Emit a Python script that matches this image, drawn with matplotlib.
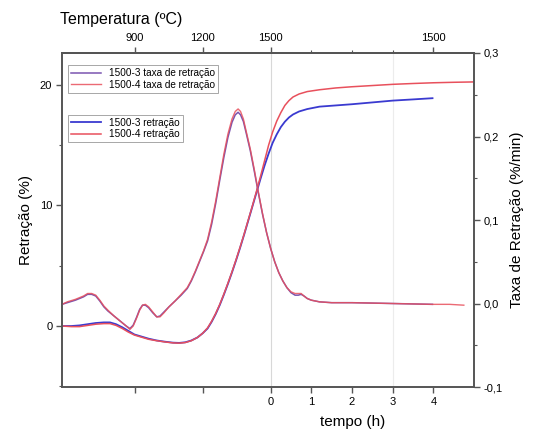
import matplotlib
matplotlib.use("Agg")
import matplotlib.pyplot as plt
import numpy as np

plt.rcParams['font.family'] = ['Liberation Sans', 'DejaVu Sans']

# taxa de retracao (%/min) vs tempo (h), t=0 -> inicio do patamar 1500 C
t_taxa3 = [-5.13, -5.0, -4.8, -4.6, -4.5, -4.4, -4.3, -4.2, -4.1, -4.0, -3.85, -3.7, -3.55, -3.46,
           -3.38, -3.3, -3.22, -3.15, -3.08, -3.0, -2.9, -2.8, -2.72, -2.62, -2.5, -2.35, -2.2,
           -2.05, -1.95, -1.85, -1.75, -1.65, -1.55, -1.45, -1.35, -1.25, -1.15, -1.05, -0.95,
           -0.87, -0.8, -0.74, -0.67, -0.6, -0.5, -0.4, -0.3, -0.2, -0.1, 0.0, 0.1, 0.2, 0.3,
           0.4, 0.5, 0.6, 0.68, 0.75, 0.82, 0.9, 1.0, 1.2, 1.5, 2.0, 3.0, 3.98]
taxa3 = [-0.001, 0.001, 0.004, 0.008, 0.011, 0.011, 0.009, 0.003, -0.004, -0.009, -0.015, -0.021,
         -0.027, -0.030, -0.026, -0.017, -0.007, -0.002, -0.002, -0.005, -0.011, -0.016, -0.015,
         -0.010, -0.004, 0.003, 0.010, 0.018, 0.027, 0.038, 0.050, 0.062, 0.075, 0.095, 0.120,
         0.148, 0.175, 0.199, 0.217, 0.226, 0.229, 0.226, 0.218, 0.204, 0.183, 0.158, 0.132,
         0.107, 0.085, 0.066, 0.050, 0.037, 0.027, 0.019, 0.013, 0.010, 0.010, 0.011, 0.009,
         0.006, 0.004, 0.002, 0.001, 0.001, 0.000, -0.001]
t_taxa4 = t_taxa3 + [4.4, 4.75]
taxa4 = [-0.001, 0.002, 0.005, 0.009, 0.012, 0.012, 0.010, 0.004, -0.003, -0.008, -0.015, -0.021,
         -0.027, -0.031, -0.027, -0.018, -0.008, -0.002, -0.001, -0.004, -0.010, -0.016, -0.016,
         -0.011, -0.004, 0.003, 0.011, 0.019, 0.028, 0.039, 0.051, 0.063, 0.077, 0.098, 0.123,
         0.151, 0.179, 0.203, 0.221, 0.230, 0.233, 0.230, 0.221, 0.206, 0.185, 0.160, 0.133,
         0.108, 0.085, 0.066, 0.050, 0.037, 0.027, 0.019, 0.014, 0.012, 0.012, 0.012, 0.009,
         0.006, 0.004, 0.002, 0.001, 0.001, 0.000, -0.001, -0.001, -0.002]

# retracao (%) vs tempo (h)
t_ret3 = [-5.13, -4.9, -4.7, -4.5, -4.3, -4.1, -3.95, -3.8, -3.65, -3.5, -3.35, -3.2, -3.0, -2.8,
          -2.6, -2.4, -2.25, -2.1, -1.95, -1.8, -1.67, -1.55, -1.45, -1.35, -1.25, -1.15, -1.05,
          -0.95, -0.85, -0.75, -0.65, -0.55, -0.45, -0.35, -0.25, -0.15, -0.05, 0.05, 0.15, 0.25,
          0.35, 0.45, 0.55, 0.7, 0.9, 1.2, 1.6, 2.0, 2.5, 3.0, 3.5, 3.98]
ret3 = [0.0, 0.0, 0.05, 0.15, 0.25, 0.3, 0.3, 0.15, -0.1, -0.4, -0.7, -0.85, -1.05, -1.2,
        -1.3, -1.38, -1.4, -1.35, -1.2, -0.95, -0.6, -0.2, 0.35, 1.0, 1.75, 2.6, 3.5,
        4.45, 5.45, 6.5, 7.6, 8.75, 9.9, 11.05, 12.2, 13.3, 14.3, 15.2, 15.9, 16.5,
        16.95, 17.3, 17.55, 17.8, 18.0, 18.2, 18.3, 18.4, 18.55, 18.7, 18.8, 18.9]
t_ret4 = [-5.13, -4.9, -4.7, -4.5, -4.3, -4.1, -3.95, -3.8, -3.65, -3.5, -3.35, -3.2, -3.0, -2.8,
          -2.6, -2.4, -2.25, -2.1, -1.95, -1.8, -1.67, -1.55, -1.45, -1.35, -1.25, -1.15, -1.05,
          -0.95, -0.85, -0.75, -0.65, -0.55, -0.45, -0.35, -0.25, -0.15, -0.05, 0.05, 0.15, 0.25,
          0.35, 0.45, 0.55, 0.7, 0.9, 1.2, 1.6, 2.0, 2.5, 3.0, 3.5, 4.0, 4.5, 4.99]
ret4 = [0.0, -0.05, -0.05, 0.05, 0.15, 0.2, 0.2, 0.05, -0.2, -0.5, -0.75, -0.9, -1.1, -1.22,
        -1.32, -1.4, -1.42, -1.37, -1.22, -0.95, -0.6, -0.15, 0.4, 1.05, 1.8, 2.65, 3.55,
        4.5, 5.5, 6.55, 7.65, 8.8, 9.95, 11.15, 12.4, 13.7, 15.0, 16.1, 17.0, 17.7,
        18.3, 18.7, 19.0, 19.25, 19.45, 19.6, 19.75, 19.85, 19.95, 20.05, 20.12, 20.18, 20.22, 20.25]

temp_pos = [-3.333, -1.667, 0, 4]
temp_labels = ['900', '1200', '1500', '1500']

azul = '#3a3ad0'
verm = '#e8505c'

fig = plt.figure(figsize=(5.33, 4.45), dpi=100)
ax = fig.add_axes([0.1163, 0.1303, 0.773, 0.7506])
ax2 = ax.twinx()

ax.axvline(0, color='#d8d8d8', lw=0.8, zorder=0)
ax.axvline(3, color='#ececec', lw=0.8, zorder=0)

l1, = ax2.plot(t_taxa3, taxa3, color='#7a55b0', lw=1.1, label='1500-3 taxa de retração')
l2, = ax2.plot(t_taxa4, taxa4, color=verm, lw=1.0, alpha=0.85, label='1500-4 taxa de retração')
l3, = ax.plot(t_ret3, ret3, color=azul, lw=1.3, label='1500-3 retração')
l4, = ax.plot(t_ret4, ret4, color=verm, lw=1.1, label='1500-4 retração')

ax.set_xlim(-5.13, 5.0)
ax.set_ylim(-5.06, 22.65)
ax2.set_ylim(-0.1, 0.3)

ax.set_xticks([-3.333, -1.667, 0, 1, 2, 3, 4], labels=['', '', '0', '1', '2', '3', '4'])
ax.set_yticks([0, 10, 20])
ax.set_yticks([-5, 5, 15], minor=True)
ax2.set_yticks([-0.1, 0.0, 0.1, 0.2, 0.3], labels=['-0,1', '0,0', '0,1', '0,2', '0,3'])
ax2.set_yticks([-0.05, 0.05, 0.15, 0.25], minor=True)

sec = ax.secondary_xaxis('top')
sec.set_xticks(temp_pos, labels=temp_labels)
sec.set_xticks([1, 2, 3], minor=True)

for a in (ax, ax2, sec):
    a.tick_params(direction='out', length=4, width=1, labelsize=8, color='#555555', pad=3)
    a.tick_params(which='minor', direction='out', length=2.5, width=0.8, color='#555555')
    for s in a.spines.values():
        s.set_linewidth(1.2)
        s.set_color('#555555')

ax.set_ylabel('Retração (%)', fontsize=11, labelpad=5)
ax2.set_ylabel('Taxa de Retração (%/min)', fontsize=11, labelpad=5)
ax.set_xlabel('tempo (h)', fontsize=11, labelpad=6)
ax.xaxis.set_label_coords(0.706, -0.085)
fig.text(0.113, 0.957, 'Temperatura (ºC)', fontsize=11.5, ha='left', va='center')

leg1 = ax2.legend(handles=[l1, l2], loc='upper left', bbox_to_anchor=(0.003, 0.978),
                  fontsize=7.2, handlelength=3.0, borderpad=0.3, labelspacing=0.15,
                  fancybox=False, edgecolor='#999999', framealpha=1)
leg1.get_frame().set_linewidth(0.6)
ax2.add_artist(leg1)
leg2 = ax2.legend(handles=[l3, l4], loc='upper left', bbox_to_anchor=(0.003, 0.83),
                  fontsize=7.2, handlelength=3.0, borderpad=0.3, labelspacing=0.15,
                  fancybox=False, edgecolor='#999999', framealpha=1)
leg2.get_frame().set_linewidth(0.6)

fig.savefig('out.png', dpi=100)
